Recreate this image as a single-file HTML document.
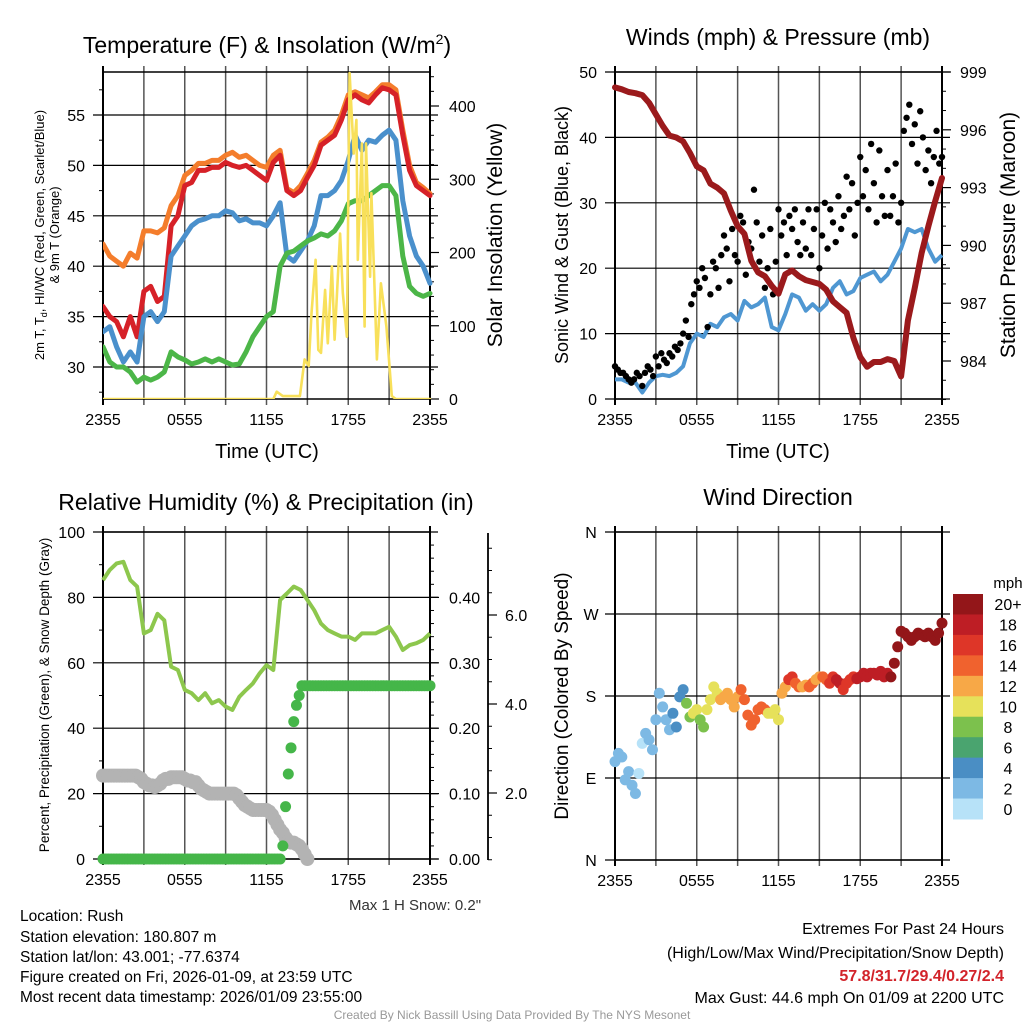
<!DOCTYPE html>
<html><head><meta charset="utf-8">
<style>
html,body{margin:0;padding:0;background:#fff;}
svg{display:block;font-family:"Liberation Sans",Arial,sans-serif;}
</style></head>
<body>
<svg id="fig" width="1024" height="1024" viewBox="0 0 1024 1024" xmlns="http://www.w3.org/2000/svg">
<rect x="0" y="0" width="1024" height="1024" fill="#fff"/>
<text x="267" y="53" font-size="23" text-anchor="middle">Temperature (F) &amp; Insolation (W/m<tspan dy="-9" font-size="14">2</tspan><tspan dy="9">)</tspan></text>
<text x="778" y="45" font-size="23" text-anchor="middle">Winds (mph) &amp; Pressure (mb)</text>
<text x="266" y="510" font-size="23" text-anchor="middle">Relative Humidity (%) &amp; Precipitation (in)</text>
<text x="778" y="505" font-size="23" text-anchor="middle">Wind Direction</text>

<text transform="translate(44,235) rotate(-90)" font-size="13" text-anchor="middle">2m T, T<tspan dy="3" font-size="9">d</tspan><tspan dy="-3">, HI/WC (Red, Green, Scarlet/Blue)</tspan></text>
<text transform="translate(59,235) rotate(-90)" font-size="13" text-anchor="middle">&amp; 9m T (Orange)</text>
<text transform="translate(502,235) rotate(-90)" font-size="21" text-anchor="middle">Solar Insolation (Yellow)</text>
<text x="267" y="458" font-size="20" text-anchor="middle">Time (UTC)</text>
<text transform="translate(568,235) rotate(-90)" font-size="18" text-anchor="middle">Sonic Wind &amp; Gust (Blue, Black)</text>
<text transform="translate(1015,235) rotate(-90)" font-size="21" text-anchor="middle">Station Pressure (Maroon)</text>
<text x="778" y="458" font-size="20" text-anchor="middle">Time (UTC)</text>
<text transform="translate(49,695) rotate(-90)" font-size="13.5" text-anchor="middle">Percent, Precipitation (Green), &amp; Snow Depth (Gray)</text>
<text transform="translate(568,696) rotate(-90)" font-size="19" text-anchor="middle">Direction (Colored By Speed)</text>
<text x="415" y="910" font-size="15" fill="#333" text-anchor="middle">Max 1 H Snow: 0.2"</text>

<g font-size="15.5">
<text x="20" y="921">Location: Rush</text>
<text x="20" y="942">Station elevation: 180.807 m</text>
<text x="20" y="962">Station lat/lon: 43.001; -77.6374</text>
<text x="20" y="982">Figure created on Fri, 2026-01-09, at 23:59 UTC</text>
<text x="20" y="1002">Most recent data timestamp: 2026/01/09 23:55:00</text>
</g>
<g font-size="16" text-anchor="end">
<text x="1004" y="934">Extremes For Past 24 Hours</text>
<text x="1004" y="958">(High/Low/Max Wind/Precipitation/Snow Depth)</text>
<text x="1004" y="981" fill="#d2232a" font-weight="bold">57.8/31.7/29.4/0.27/2.4</text>
<text x="1004" y="1003">Max Gust: 44.6 mph On 01/09 at 2200 UTC</text>
</g>
<text x="512" y="1019" font-size="12" fill="#999" text-anchor="middle">Created By Nick Bassill Using Data Provided By The NYS Mesonet</text>
<g id="layer"></g>
</svg>
<script>
// ---------- data ----------
const halfHours = Array.from({length:49},(_,i)=>i*0.5);
const tempRed = [36,35,34.5,33,35,33,37.5,38,36.5,37,44,45,48,48.3,49.5,49.5,49.8,49.8,50.3,50,49.8,50,49.5,49,48.5,50.3,51,47.5,47,47.5,48.8,50,52,52.5,53,54.5,56.5,57,56.5,56.2,57,57.7,57.5,57,53,49.5,48,47.5,47];
const temp9mOrange = [42.2,41,40.5,40,41.3,40.8,43.5,43.5,43.3,43.8,46,47,49,49.5,50.2,50.2,50.5,50.5,51,51.3,50.8,51,50.5,50,49.8,51,51.5,47.7,47.3,48,49.2,50.5,52.3,52.8,53.5,55,57,57.3,57,56.7,57.3,58,58,57.5,53.5,50,48.3,47.8,47.2];
const windChillBlue = [33.5,34,32,30.5,31.5,30.5,35,35.5,34.5,35.5,41,42,43,44,44.5,44.7,45,45,45.5,45.3,44.5,44.7,44.3,44.3,44,45,46.3,41,40.5,41.5,42.5,44,47,47,47.5,48.5,50.5,53,51.5,52.5,52.3,53,53.5,52.5,46.5,43,41,40,38.3];
const dewpointGreen = [32,30.5,30,30,29.5,28.5,29,28.7,29,29.5,31.5,31,30.7,30.3,30.5,30.8,30.5,30.8,30.5,30.2,30.3,31.5,33,34,35,35.5,40,41.3,41.5,42,42.5,42.8,43.2,43,43.5,44.5,46.2,46.5,46.5,47,47.5,48,48,47,41,38,37.3,37,37.3];
const solarTimes = [0,12.5,12.75,13.2,14.45,14.8,15.1,15.3,15.6,15.8,16,16.3,16.5,16.8,17,17.4,17.6,17.9,18.1,18.4,18.6,18.7,19,19.2,19.3,19.6,19.7,20.1,20.4,20.8,21.2,21.5,24];
const solarVals = [0,0,10,4,4,54,45,117,190,67,63,149,76,181,81,226,145,85,445,335,381,190,349,99,349,167,281,54,158,99,4,0,0];

const windSpeed = [3,3,2.5,2.5,1,2.5,3.5,3.7,3.5,4,5,8.5,10,9.5,11.5,11,12.5,13,12,15,14,14.5,15.5,11,10.5,13,16,15.5,13.5,14.5,13.5,14.5,17,18,16,16.5,18.5,19,19.5,18,19,21,23,26,25.5,26,23,21,22];
const gustStep = 0.2;
const gustVals = [5,4.5,4,4,3.5, 3,2.5,3,4,3.5, 2,4,5,4.5,3.5, 6.5,5,7,6,5.5, 7,6.5,8,7.5,8.5, 10,12,9.5,14.5,16, 18,17,20,18.5,11, 16,21,20,17,22, 25,23,18,26,22, 21,28,27,19,24, 23,32,27,21,25, 17,20,26,16,21, 29,25,27,22,28, 26,29,24,22,27, 23,29,22,26,29, 20,25,30,23,29, 27,24,31,26,28, 34,29,33,25,30, 37,31,35,29,39, 33,27,38,31,28, 35,28,31,36,27, 30,41,43,45,39, 42,36,44,40,35, 38,33,37,41,36, 37];
const pressure = [998.2,998.1,997.96,997.9,997.8,997.4,996.8,996.2,995.7,995.6,995.4,994.8,994.1,993.9,993.2,993.0,992.7,991.8,991.0,990.6,989.2,988.6,988.4,987.9,987.5,988.5,988.7,988.4,988.2,988.1,988.0,987.7,987.1,986.8,986.5,985.2,984.2,983.7,983.95,983.95,984.1,984.0,983.2,986.1,987.8,989.6,991.0,992.3,993.5];

const relHumidity = [85.3,88.4,90.4,90.9,85.3,83.3,69,70,75,73,58.8,57.8,51.7,50.7,48.6,50.7,47.6,48.6,46.6,45.6,49.6,51.7,53.7,56.8,59.3,57.8,79.2,81.2,83.3,82.3,79.2,76.1,72,70,69,68,68,67,69,69,69,70,71,68,63.9,65.4,66,67,69];
const precipStep = 0.2;
const precipVals = [0,0,0,0,0,0,0,0,0,0,0,0,0,0,0,0,0,0,0,0,0,0,0,0,0,0,0,0,0,0,0,0,0,0,0,0,0,0,0,0,0,0,0,0,0,0,0,0,0,0,0,0,0,0,0,0,0,0,0,0,0,0,0,0,0,0,
 0.02,0.08,0.13,0.17,0.21,0.235,0.25,0.265,
 0.265,0.265,0.265,0.265,0.265,0.265,0.265,0.265,0.265,0.265,0.265,0.265,0.265,0.265,0.265,0.265,0.265,0.265,0.265,0.265,0.265,0.265,0.265,0.265,0.265,0.265,0.265,0.265,0.265,0.265,0.265,0.265,0.265,0.265,0.265,0.265,0.265,0.265,0.265,0.265,0.265,0.265,0.265,0.265,0.265,0.265,0.265];
const snowStep = 0.2;
const snowDepth = [2.55,2.55,2.55,2.55,2.55,2.55,2.55,2.55,2.55,2.55,2.55,2.55,2.55,2.5,2.45,
 2.35,2.3,2.25,2.25,2.2,2.25,2.3,2.4,2.45,2.45,2.5,2.5,2.5,2.5,2.5,
 2.45,2.4,2.4,2.35,2.35,2.25,2.15,2.1,2.05,2.0,2.0,2.0,2.0,2.0,2.0,
 2.0,2.0,2.0,2.0,1.95,1.85,1.75,1.65,1.6,1.55,1.5,1.5,1.5,1.5,1.5,
 1.5,1.45,1.35,1.2,1.05,0.9,0.8,0.65,0.55,0.5,0.5,0.45,0.4,0.3,0.15,0.0];

const dirStep = 0.25;
const windDir = [108,117,113,88,97,82,73,95,128,139,132,121,154,183,168,154,143,161,146,179,187,172,157,161,165,154,146,165,176,190,183,176,179,183,176,168,179,187,176,159,148,154,165,168,165,161,161,165,154,183,190,198,201,194,190,190,192,190,194,198,201,201,198,194,201,198,194,187,194,198,201,199,201,205,201,205,205,203,207,201,205,201,216,234,251,249,245,241,245,249,247,245,249,245,241,249,260];
const speedBins = [0,2,4,6,8,10,12,14,16,18,20];
const speedLabels = ['0','2','4','6','8','10','12','14','16','18','20+'];
const speedColors = ['#b7e2f8','#7db9e4','#4a8ec4','#4aa46f','#7cc14d','#e6e15a','#f7a847','#f0622e','#de3628','#be1e25','#931619'];

const timeTickLabels = ['2355','0555','1155','1755','2355'];
const tempTicks = [30,35,40,45,50,55];
const solarTicks = [0,100,200,300,400];
const windTicks = [0,10,20,30,40,50];
const pressTicks = [984,987,990,993,996,999];
const pctTicks = [0,20,40,60,80,100];
const precipTicks = [0,0.1,0.2,0.3,0.4];
const snowTicks = [2,4,6];
const dirTicks = [0,90,180,270,360];
const dirLabels = ['N','E','S','W','N'];

// ---------- helpers ----------
const NS='http://www.w3.org/2000/svg';
const layer=document.getElementById('layer');
function mk(tag,attrs,parent){const e=document.createElementNS(NS,tag);for(const k in attrs)e.setAttribute(k,attrs[k]);(parent||layer).appendChild(e);return e;}
function linear(d0,d1,r0,r1){return v=>r0+(v-d0)/(d1-d0)*(r1-r0);}

const P1={x0:103,x1:430,top:72,bot:399};
const P2={x0:615,x1:942,top:72,bot:399};
const P3={x0:103,x1:430,top:532,bot:859};
const P4={x0:615,x1:942,top:532,bot:860};
const TFS=16;

function frame(P,name,hVals,yfun){
  const xs=linear(0,24,P.x0,P.x1);
  for(let h=0;h<=24;h+=3){
    const l=mk('line',{x1:xs(h),x2:xs(h),y1:P.top-6,y2:P.bot+6,stroke:(h===0||h===24)?'#000':'#555','stroke-width':(h===0||h===24)?2:1.5});
    
    
  }
  hVals.forEach(v=>{
    const l=mk('line',{x1:P.x0-10,x2:P.x1+8,y1:yfun(v),y2:yfun(v),stroke:'#000','stroke-width':1.2});
    
    
  });
  const tl=mk('line',{x1:P.x0,x2:P.x1,y1:P.top,y2:P.top,stroke:'#000','stroke-width':1.5});
  
  
  const bl=mk('line',{x1:P.x0,x2:P.x1,y1:P.bot,y2:P.bot,stroke:'#000','stroke-width':1.5});
  
  
  timeTickLabels.forEach((s,i)=>{
    const t=mk('text',{x:xs(i*6),y:P.bot+26,'font-size':TFS,'text-anchor':'middle'});
    t.textContent=s;
    
    
  });
  return xs;
}
function leftLabels(P,ticks,yfun,fmt,name,xr){
  ticks.forEach(v=>{
    const t=mk('text',{x:xr,y:yfun(v)+6,'font-size':TFS,'text-anchor':'end'});
    t.textContent=fmt(v);
    
    
  });
}
function rightAxis(P,ticks,minor,yfun,fmt,name,x,lx){
  minor.forEach(v=>{
    const m=mk('line',{x1:x,x2:x+4,y1:yfun(v),y2:yfun(v),stroke:'#000','stroke-width':1});
    
    
  });
  ticks.forEach(v=>{
    const m=mk('line',{x1:x,x2:x+9,y1:yfun(v),y2:yfun(v),stroke:'#000','stroke-width':1.2});
    
    
    const t=mk('text',{x:lx,y:yfun(v)+6,'font-size':TFS});
    t.textContent=fmt(v);
    
    
  });
}
function leftMinor(P,vals,yfun,name){
  vals.forEach(v=>{
    const m=mk('line',{x1:P.x0-4,x2:P.x0,y1:yfun(v),y2:yfun(v),stroke:'#000','stroke-width':1});
    
    
  });
}
function pathFrom(times,vals,xs,ys){return times.map((t,i)=>(i?'L':'M')+xs(t).toFixed(1)+','+ys(vals[i]).toFixed(1)).join('');}

// ---------- Panel 1 ----------
const y1T=linear(30,55,367,115);
const y1S=linear(0,400,399,106);
const x1=frame(P1,'temp-panel',tempTicks,y1T);
leftLabels(P1,tempTicks,y1T,v=>String(v),'temp-y-tick-label',85);
leftMinor(P1,[27.5,32.5,37.5,42.5,47.5,52.5,57.5],y1T,'temp-y-minor-tick');
rightAxis(P1,solarTicks,[20,40,60,80,120,140,160,180,220,240,260,280,320,340,360,380,420,440],y1S,v=>String(v),'solar-y',P1.x1,449);
const clipP1=mk('clipPath',{id:'c1'});
mk('rect',{x:P1.x0,y:P1.top-4,width:P1.x1-P1.x0+4,height:P1.bot-P1.top+4},clipP1);
[[halfHours,temp9mOrange,'#f47d2c',5,y1T,'temp-9m-orange-line'],
 [halfHours,tempRed,'#d62128',5,y1T,'temp-2m-red-line'],
 [halfHours,windChillBlue,'#4a90cc',5,y1T,'heat-index-wind-chill-line'],
 [halfHours,dewpointGreen,'#4cb648',5,y1T,'dewpoint-green-line'],
 [solarTimes,solarVals,'#f8e05a',2.6,y1S,'solar-insolation-line']].forEach(s=>{
  const p=mk('path',{d:pathFrom(s[0],s[1],x1,s[4]),fill:'none',stroke:s[2],'stroke-width':s[3],'stroke-linejoin':'round','stroke-linecap':'round','clip-path':'url(#c1)'});
  
  
});

// ---------- Panel 2 ----------
const y2W=linear(0,50,399,72);
const y2P=linear(984,999,361,72);
const x2=frame(P2,'wind-panel',windTicks,y2W);
leftLabels(P2,windTicks,y2W,v=>String(v),'wind-y-tick-label',597);
rightAxis(P2,pressTicks,[982,983,985,986,988,989,991,992,994,995,997,998],y2P,v=>String(v),'pressure-y',P2.x1,960);
{const p=mk('path',{d:pathFrom(halfHours,windSpeed,x2,y2W),fill:'none',stroke:'#4f97d2','stroke-width':4,'stroke-linejoin':'round'});

}
gustVals.forEach((g,i)=>{
  const c=mk('circle',{cx:x2(i*gustStep),cy:y2W(g),r:3.2,fill:'#000'});
  
  
});
{const p=mk('path',{d:pathFrom(halfHours,pressure,x2,y2P),fill:'none',stroke:'#9b1a1c','stroke-width':6,'stroke-linejoin':'round','stroke-linecap':'round'});

}

// ---------- Panel 3 ----------
const y3=linear(0,100,859,532);
const y3P=v=>y3(v*200);
const y3S=linear(2,6,793,615);
const x3=frame(P3,'humidity-panel',pctTicks,y3);
leftLabels(P3,pctTicks,y3,v=>String(v),'percent-y-tick-label',85);
leftMinor(P3,[10,30,50,70,90],y3,'percent-y-minor-tick');
rightAxis(P3,precipTicks,[0.02,0.04,0.06,0.08,0.12,0.14,0.16,0.18,0.22,0.24,0.26,0.28,0.32,0.34,0.36,0.38,0.42,0.44,0.46,0.48],y3P,v=>v.toFixed(2),'precip-y',P3.x1,449);
{const a=mk('line',{x1:488,x2:488,y1:533,y2:860,stroke:'#000','stroke-width':1.8});

}
rightAxis(P3,snowTicks,[0.5,1,1.5,2.5,3,3.5,4.5,5,5.5,6.5,7,7.5],y3S,v=>v.toFixed(1),'snow-y',488,505);
{const p=mk('path',{d:pathFrom(halfHours,relHumidity,x3,y3),fill:'none',stroke:'#8dc74d','stroke-width':4,'stroke-linejoin':'round'});

}
snowDepth.forEach((s,i)=>{
  const c=mk('circle',{cx:x3(i*snowStep),cy:y3(s*10),r:7,fill:'#b3b3b3'});
  
  
});
precipVals.forEach((p,i)=>{
  const c=mk('circle',{cx:x3(i*precipStep),cy:y3P(p),r:5.5,fill:'#45b649'});
  
  
});

// ---------- Panel 4 ----------
const y4=linear(0,360,860,532);
const x4=frame(P4,'direction-panel',dirTicks,y4);
dirTicks.forEach((d,i)=>{
  const t=mk('text',{x:591,y:y4(d)+6,'font-size':TFS,'text-anchor':'middle'});
  t.textContent=dirLabels[i];
  
  
});
function colorFor(s){let k=0;for(let i=0;i<speedBins.length;i++){if(s>=speedBins[i])k=i;}return speedColors[k];}
windDir.forEach((d,i)=>{
  const h=i*dirStep;
  const s=windSpeed[Math.round(h*2)];
  const c=mk('circle',{cx:x4(h),cy:y4(d),r:5.5,fill:colorFor(s)});
  
  
});
// colorbar
const cbTop=594, cbH=225/11;
{const t=mk('text',{x:1008,y:588,'font-size':15,'text-anchor':'middle'});
t.textContent='mph';

}
speedColors.forEach((col,i)=>{
  const k=speedColors.length-1-i;
  const r=mk('rect',{x:953,y:cbTop+i*cbH,width:30,height:cbH+0.5,fill:speedColors[k]});
  
  
  const t=mk('text',{x:1008,y:cbTop+i*cbH+cbH/2+6,'font-size':TFS,'text-anchor':'middle'});
  t.textContent=speedLabels[k];
  
  
});
</script>
</body></html>
